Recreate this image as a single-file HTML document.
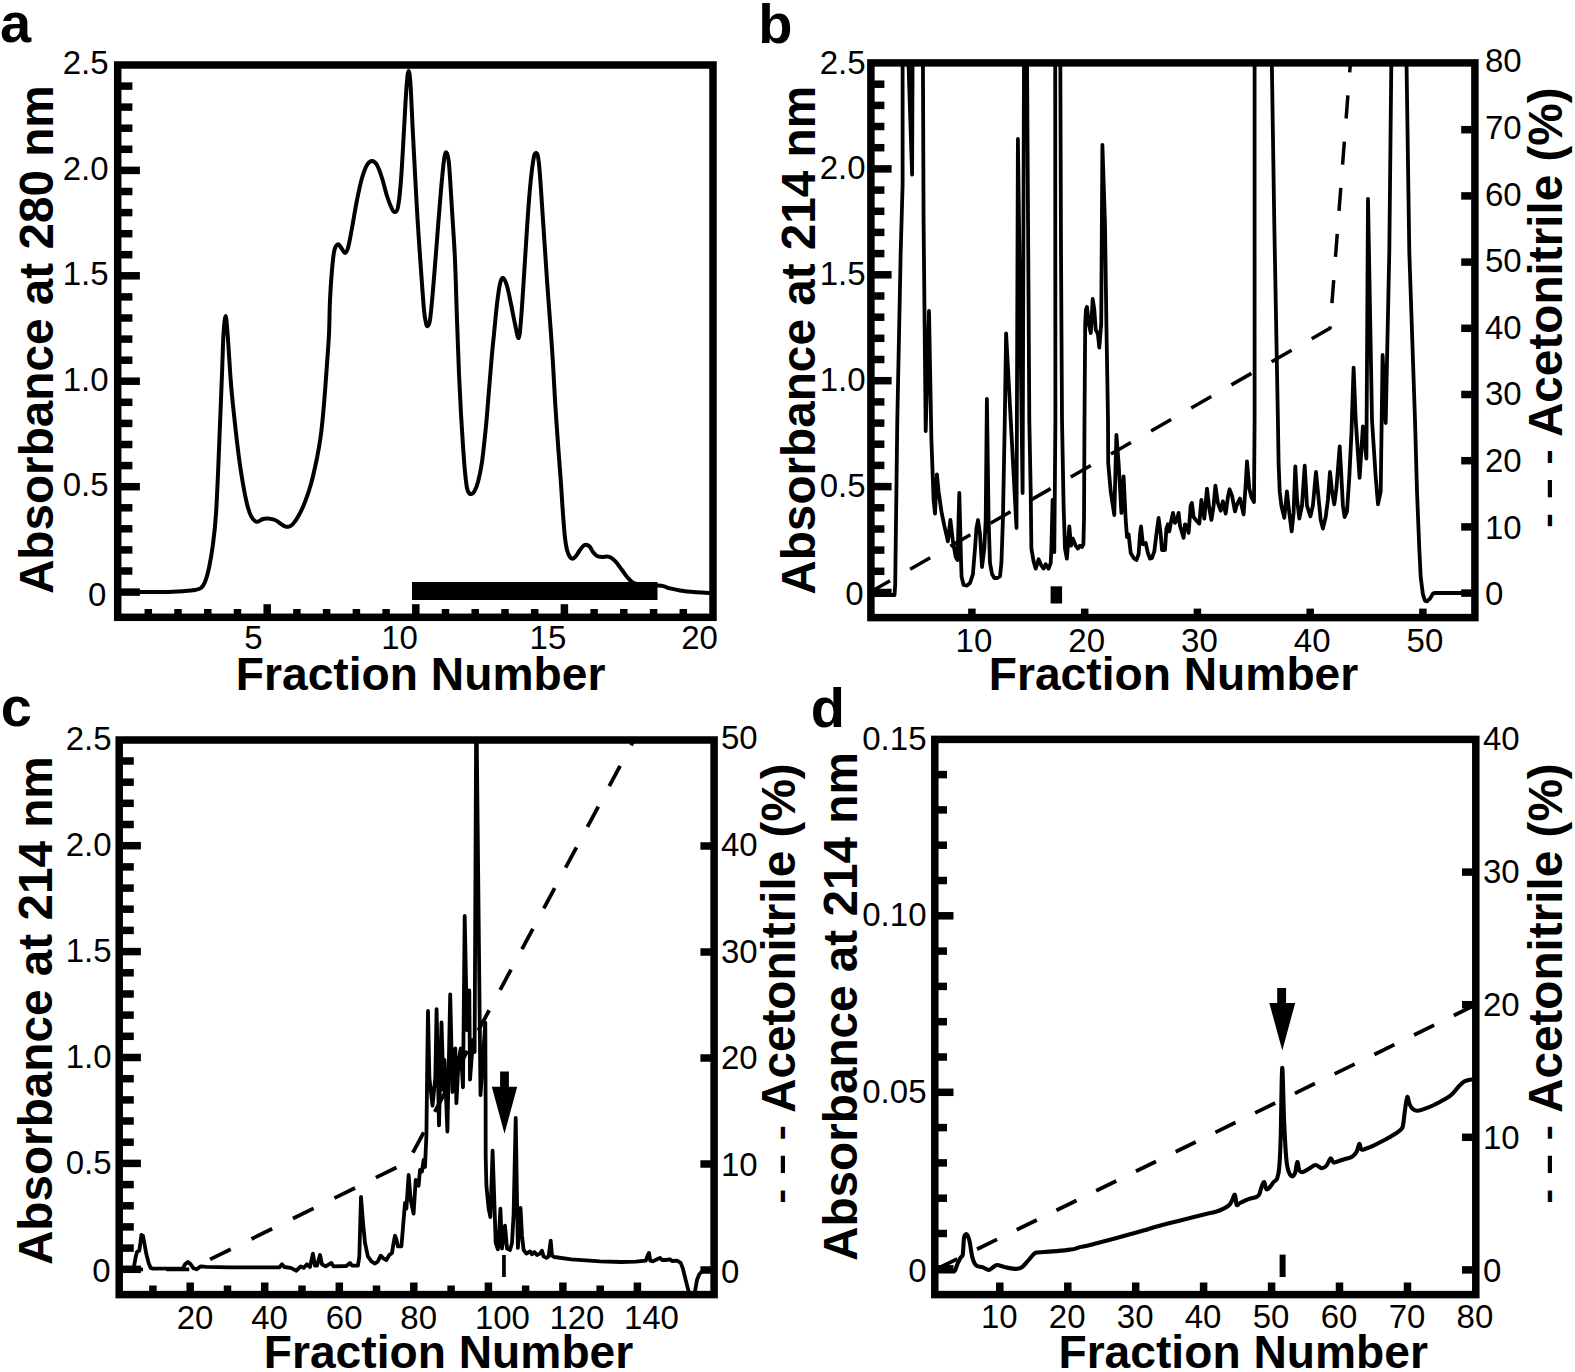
<!DOCTYPE html>
<html lang="en"><head><meta charset="utf-8"><title>Chromatography fractions</title>
<style>html,body{margin:0;padding:0;background:#fff}svg{display:block}text{font-family:"Liberation Sans",Arial,Helvetica,sans-serif;fill:#000;stroke:none}</style></head><body>
<svg width="1575" height="1372" viewBox="0 0 1575 1372" stroke="#000" fill="#000">
<rect x="0" y="0" width="1575" height="1372" fill="#fff" stroke="none"/>
<g id="panel-a">
<clipPath id="ca"><rect x="117.7" y="65" width="595.3" height="552.3"/></clipPath>
<g clip-path="url(#ca)">
<path d="M121 592 C124.2 592 132.7 592 140 592 C147.3 592 157.5 592.2 165 592 C172.5 591.8 180 591.3 185 591 C190 590.7 192.3 590.5 195 590 C197.7 589.5 199.3 589.3 201 588 C202.7 586.7 203.7 585.3 205 582 C206.3 578.7 207.7 574.3 209 568 C210.3 561.7 211.8 553 213 544 C214.2 535 215.2 525.7 216 514 C216.8 502.3 217.3 489 218 474 C218.7 459 219.3 440.7 220 424 C220.7 407.3 221.4 389 222 374 C222.6 359 222.9 343.7 223.5 334 C224.1 324.3 224.9 316 225.6 316 C226.3 316 226.7 322.7 227.6 334 C228.5 345.3 229.8 369 231 384 C232.2 399 233.7 411.7 235 424 C236.3 436.3 237.7 448 239 458 C240.3 468 241.7 476.3 243 484 C244.3 491.7 245.7 498.7 247 504 C248.3 509.3 249.7 513.2 251 516 C252.3 518.8 253.8 520.1 255 521 C256.2 521.9 256.7 521.9 258 521.6 C259.3 521.3 261.3 519.5 263 519 C264.7 518.5 266 518.4 268 518.6 C270 518.8 272.8 519.1 275 520 C277.2 520.9 279.3 522.9 281 524 C282.7 525.1 283.7 526 285 526.4 C286.3 526.8 287.7 527 289 526.6 C290.3 526.2 291.3 525.9 293 524 C294.7 522.1 297 518.7 299 515 C301 511.3 303 507.2 305 502 C307 496.8 309 491.3 311 484 C313 476.7 315.3 466.3 317 458 C318.7 449.7 319.8 443 321 434 C322.2 425 323 415.7 324 404 C325 392.3 326.2 375.7 327 364 C327.8 352.3 328.5 344.7 329 334 C329.5 323.3 329.5 310.7 330 300 C330.5 289.3 331.3 278 332 270 C332.7 262 333.3 256 334 252 C334.7 248 335.2 247.3 336 246 C336.8 244.7 337.6 243.9 338.6 244.4 C339.6 244.9 340.9 247.6 342 249 C343.1 250.4 344 253.2 345 253 C346 252.8 346.8 252.2 348 248 C349.2 243.8 350.5 236 352 228 C353.5 220 355.3 208.3 357 200 C358.7 191.7 360.3 183.8 362 178 C363.7 172.2 365.3 167.8 367 165 C368.7 162.2 370.3 161 372 161 C373.7 161 375.3 162.2 377 165 C378.7 167.8 380.3 172.8 382 178 C383.7 183.2 385.3 190.8 387 196 C388.7 201.2 390.7 206.3 392 209 C393.3 211.7 394 212.3 395 212 C396 211.7 397 212.3 398 207 C399 201.7 400 192.8 401 180 C402 167.2 403.1 145.7 404 130 C404.9 114.3 405.8 95.8 406.6 86 C407.4 76.2 407.9 71 408.6 71 C409.3 71 409.9 75.3 410.6 86 C411.3 96.7 411.9 114.3 413 135 C414.1 155.7 415.7 187.5 417 210 C418.3 232.5 419.8 253.3 421 270 C422.2 286.7 423.2 301.2 424 310 C424.8 318.8 425.4 320.3 426 323 C426.6 325.7 426.9 326.5 427.6 326 C428.3 325.5 429.1 326 430 320 C430.9 314 431.8 303.3 433 290 C434.2 276.7 435.7 256.7 437 240 C438.3 223.3 439.8 203.3 441 190 C442.2 176.7 443.1 166.3 444 160 C444.9 153.7 445.6 151.7 446.4 152.4 C447.2 153.1 448.1 154.4 449 164 C449.9 173.6 451 194 452 210 C453 226 454.2 241.7 455 260 C455.8 278.3 456.3 301 457 320 C457.7 339 458.3 358.3 459 374 C459.7 389.7 460.3 402 461 414 C461.7 426 462.3 436.3 463 446 C463.7 455.7 464.3 465 465 472 C465.7 479 466.3 484.5 467 488 C467.7 491.5 468.3 492 469 493 C469.7 494 470.2 494.2 471 494 C471.8 493.8 472.8 494 474 492 C475.2 490 476.7 487 478 482 C479.3 477 480.7 471.3 482 462 C483.3 452.7 484.8 438 486 426 C487.2 414 488 402 489 390 C490 378 491.2 363.3 492 354 C492.8 344.7 493.2 342.3 494 334 C494.8 325.7 496 312.3 497 304 C498 295.7 499 288.3 500 284 C501 279.7 501.8 277.7 503 278 C504.2 278.3 505.7 281.7 507 286 C508.3 290.3 509.7 297.7 511 304 C512.3 310.3 513.7 318.3 515 324 C516.3 329.7 517.6 338.7 518.6 338 C519.6 337.3 519.9 333 521 320 C522.1 307 523.7 280 525 260 C526.3 240 527.7 216.3 529 200 C530.3 183.7 531.8 169.8 533 162 C534.2 154.2 535 152.7 536 153 C537 153.3 537.8 152.8 539 164 C540.2 175.2 541.7 200.7 543 220 C544.3 239.3 545.7 261 547 280 C548.3 299 550 320 551 334 C552 348 552.3 353 553 364 C553.7 375 554.2 386.7 555 400 C555.8 413.3 557 430 558 444 C559 458 560.2 472.3 561 484 C561.8 495.7 562.3 505 563 514 C563.7 523 564.3 532 565 538 C565.7 544 566.2 546.8 567 550 C567.8 553.2 569 555.6 570 557 C571 558.4 572 558.8 573 558.6 C574 558.4 574.8 557.4 576 556 C577.2 554.6 578.7 551.8 580 550 C581.3 548.2 582.8 546.2 584 545.4 C585.2 544.6 586 544.7 587 545 C588 545.3 589 545.8 590 547 C591 548.2 591.8 550.5 593 552 C594.2 553.5 595.5 555.2 597 556 C598.5 556.8 600.3 556.9 602 557 C603.7 557.1 605.5 556.3 607 556.4 C608.5 556.5 609.5 556.7 611 557.6 C612.5 558.5 614.2 559.9 616 562 C617.8 564.1 620 567.3 622 570 C624 572.7 626 575.8 628 578 C630 580.2 631 581.8 634 583 C637 584.2 642 584.6 646 585 C650 585.4 655 585.4 658 585.6 C661 585.8 662 585.9 664 586.4 C666 586.9 667.3 587.7 670 588.4 C672.7 589.1 676 589.8 680 590.4 C684 591 688.8 591.6 694 592 C699.2 592.4 708.2 592.8 711 593" fill="none" stroke-width="4" stroke-linejoin="round" stroke-linecap="round"/>
<rect x="412" y="582" width="245.5" height="18" stroke="none"/>
</g>
<rect x="117.7" y="65" width="595.3" height="552.3" fill="none" stroke-width="7.5"/>
<line x1="121" y1="571" x2="132.4" y2="571" stroke-width="7.5"/>
<line x1="121" y1="549.9" x2="132.4" y2="549.9" stroke-width="7.5"/>
<line x1="121" y1="528.8" x2="132.4" y2="528.8" stroke-width="7.5"/>
<line x1="121" y1="507.8" x2="132.4" y2="507.8" stroke-width="7.5"/>
<line x1="121" y1="465.6" x2="132.4" y2="465.6" stroke-width="7.5"/>
<line x1="121" y1="444.5" x2="132.4" y2="444.5" stroke-width="7.5"/>
<line x1="121" y1="423.4" x2="132.4" y2="423.4" stroke-width="7.5"/>
<line x1="121" y1="402.3" x2="132.4" y2="402.3" stroke-width="7.5"/>
<line x1="121" y1="360.2" x2="132.4" y2="360.2" stroke-width="7.5"/>
<line x1="121" y1="339.1" x2="132.4" y2="339.1" stroke-width="7.5"/>
<line x1="121" y1="318" x2="132.4" y2="318" stroke-width="7.5"/>
<line x1="121" y1="296.9" x2="132.4" y2="296.9" stroke-width="7.5"/>
<line x1="121" y1="254.7" x2="132.4" y2="254.7" stroke-width="7.5"/>
<line x1="121" y1="233.7" x2="132.4" y2="233.7" stroke-width="7.5"/>
<line x1="121" y1="212.6" x2="132.4" y2="212.6" stroke-width="7.5"/>
<line x1="121" y1="191.5" x2="132.4" y2="191.5" stroke-width="7.5"/>
<line x1="121" y1="149.3" x2="132.4" y2="149.3" stroke-width="7.5"/>
<line x1="121" y1="128.2" x2="132.4" y2="128.2" stroke-width="7.5"/>
<line x1="121" y1="107.1" x2="132.4" y2="107.1" stroke-width="7.5"/>
<line x1="121" y1="86.1" x2="132.4" y2="86.1" stroke-width="7.5"/>
<line x1="121" y1="592.1" x2="139.9" y2="592.1" stroke-width="7.5"/>
<line x1="121" y1="486.7" x2="139.9" y2="486.7" stroke-width="7.5"/>
<line x1="121" y1="381.2" x2="139.9" y2="381.2" stroke-width="7.5"/>
<line x1="121" y1="275.8" x2="139.9" y2="275.8" stroke-width="7.5"/>
<line x1="121" y1="170.4" x2="139.9" y2="170.4" stroke-width="7.5"/>
<line x1="148.3" y1="609" x2="148.3" y2="614" stroke-width="7.5"/>
<line x1="178" y1="609" x2="178" y2="614" stroke-width="7.5"/>
<line x1="207.8" y1="609" x2="207.8" y2="614" stroke-width="7.5"/>
<line x1="237.5" y1="609" x2="237.5" y2="614" stroke-width="7.5"/>
<line x1="296.9" y1="609" x2="296.9" y2="614" stroke-width="7.5"/>
<line x1="326.6" y1="609" x2="326.6" y2="614" stroke-width="7.5"/>
<line x1="356.4" y1="609" x2="356.4" y2="614" stroke-width="7.5"/>
<line x1="386.1" y1="609" x2="386.1" y2="614" stroke-width="7.5"/>
<line x1="445.5" y1="609" x2="445.5" y2="614" stroke-width="7.5"/>
<line x1="475.2" y1="609" x2="475.2" y2="614" stroke-width="7.5"/>
<line x1="505" y1="609" x2="505" y2="614" stroke-width="7.5"/>
<line x1="534.7" y1="609" x2="534.7" y2="614" stroke-width="7.5"/>
<line x1="594.1" y1="609" x2="594.1" y2="614" stroke-width="7.5"/>
<line x1="623.8" y1="609" x2="623.8" y2="614" stroke-width="7.5"/>
<line x1="653.6" y1="609" x2="653.6" y2="614" stroke-width="7.5"/>
<line x1="683.3" y1="609" x2="683.3" y2="614" stroke-width="7.5"/>
<line x1="267.2" y1="604.2" x2="267.2" y2="614" stroke-width="7.5"/>
<line x1="415.8" y1="604.2" x2="415.8" y2="614" stroke-width="7.5"/>
<line x1="564.4" y1="604.2" x2="564.4" y2="614" stroke-width="7.5"/>
<text x="108.5" y="74.4" font-size="33" text-anchor="end">2.5</text>
<text x="108.5" y="179.8" font-size="33" text-anchor="end">2.0</text>
<text x="108.5" y="285.2" font-size="33" text-anchor="end">1.5</text>
<text x="108.5" y="390.6" font-size="33" text-anchor="end">1.0</text>
<text x="108.5" y="496.1" font-size="33" text-anchor="end">0.5</text>
<text x="106.3" y="606" font-size="33" text-anchor="end">0</text>
<text x="253.5" y="649.2" font-size="33" text-anchor="middle">5</text>
<text x="399.6" y="649.2" font-size="33" text-anchor="middle">10</text>
<text x="547.9" y="649.2" font-size="33" text-anchor="middle">15</text>
<text x="699.5" y="649.2" font-size="33" text-anchor="middle">20</text>
<text x="53.1" y="594.1" font-size="47.7" font-weight="bold" transform="rotate(-90 53.1 594.1)">Absorbance at 280 nm</text>
<text x="420.6" y="689.8" font-size="46.2" text-anchor="middle" font-weight="bold">Fraction Number</text>
<text x="0" y="42.3" font-size="56" font-weight="bold">a</text>
</g>
<g id="panel-b">
<clipPath id="cb"><rect x="870.9" y="62.9" width="604" height="554.7"/></clipPath>
<g clip-path="url(#cb)">
<path d="M870 592.3 L1330 328.3 L1350.4 62.9" fill="none" stroke-width="3.5" stroke-linejoin="round" stroke-linecap="butt" stroke-dasharray="23.1 23.2"/>
<path d="M871 595 L894.5 595 L895.2 585 L897.3 420 L900.7 252 L902.6 185 L902.6 55 L908.2 55 L912.1 174.6 L912.6 55 L922.9 55 L923.6 224 L925.7 431 L929 311 L931.4 440 L933.6 500 L935 513.6 L936.9 474.3 L938.6 491.4 L941.4 511.4 L944.3 525.7 L947.9 541.4 L950.4 520 L952.9 541.4 L955.7 557 L957.5 560 L959.3 492.9 L961 560 L961.6 577 L963.6 585 L967 585.7 L970 583 L972.9 574.3 L975 548.6 L976.4 528.6 L978 520 L980 534 L982 567 L984.3 548.6 L985.7 520 L986.9 399 L988.6 520 L990 563 L992 574 L994.3 578 L997 578 L1000 576.4 L1001.4 563 L1002.9 520 L1004 463 L1004.8 420 L1006.1 333.3 L1016.5 528 L1017.9 139 L1022.6 493 L1024 55 L1027 55 L1029.3 420 L1030.7 491.4 L1031.4 548.6 L1033.6 561.4 L1035.7 568.6 L1038.6 559.3 L1041.4 565.7 L1043.6 568.6 L1045.7 564.3 L1048.6 568.6 L1050.7 563 L1051.4 548.6 L1052.6 500 L1054.3 552 L1055.4 420 L1055.2 55 L1060.3 55 L1061 252 L1062 420 L1063.6 505.7 L1065 548.6 L1066.9 558.6 L1069.3 526.4 L1071 545.7 L1072.9 538.6 L1075.7 545.7 L1077.9 548.6 L1080 545.7 L1082 547 L1083.4 544.3 L1084 520 L1084.5 420 L1085.2 324 L1085.9 310 L1087 307 L1088.8 324 L1090.8 333 L1092.7 299 L1094.3 309.7 L1095.7 329.7 L1097.9 334 L1099.3 347.6 L1101.2 324 L1102.4 145 L1105 224 L1106.4 324 L1108 420 L1108.2 463 L1110.7 491.4 L1114.3 515 L1116.4 435 L1118.6 463 L1121.4 513 L1123.6 476.4 L1125.7 520 L1127 537 L1128.6 534.3 L1130.7 553 L1133.6 557.9 L1136.4 560 L1138.6 554.3 L1140 534.3 L1141 526.4 L1142.9 544.3 L1145.7 542.9 L1147.9 553 L1150 558.6 L1152 557.9 L1154.3 551.4 L1156.4 534.3 L1158.6 517.9 L1160.7 534.3 L1162 550 L1165 550 L1166.4 528.6 L1167.9 524.3 L1169.3 531.4 L1171.4 520 L1173 512.9 L1175 522.9 L1177 520 L1178.6 512.9 L1180 525.7 L1183.6 537.9 L1185 524.3 L1187 525.7 L1188.6 532.9 L1190.7 505.7 L1191.9 502.9 L1193.6 517 L1196.4 520.7 L1199.3 523.6 L1201.4 500 L1204.3 518.6 L1207 488.6 L1209.3 508.6 L1211.4 520 L1213.6 505.7 L1215.4 485.7 L1217.9 502.9 L1220.7 510.7 L1222.9 501.4 L1225.7 513.6 L1227.9 497 L1229.6 489.3 L1232 495.7 L1235 511.4 L1237 504.3 L1240 498.6 L1243.6 514.3 L1245.7 484.3 L1247 461.4 L1249.3 488.6 L1251.4 497 L1254 502 L1254.6 420 L1254.6 55 L1271.7 55 L1274.3 224 L1277.9 420 L1278.6 463 L1279.7 491.4 L1281.4 505.7 L1284.3 517.9 L1286.9 491.4 L1289.3 512.9 L1291.7 531.4 L1293.6 512.9 L1295.3 466.4 L1297 498.6 L1299.3 518.6 L1302 505.7 L1304.7 465.7 L1307 505.7 L1310.4 516.4 L1312.9 505.7 L1316 472 L1318.6 498.6 L1320.7 520 L1322.9 528.6 L1325.7 517 L1327.9 500 L1330 472 L1332 491.4 L1334.3 504.3 L1336.4 488.6 L1339.7 446.4 L1341.4 477 L1342.9 505.7 L1344.6 517 L1347 511.4 L1349.3 477 L1351.4 434.3 L1353.6 367.6 L1355.7 420 L1359.6 477.9 L1362.9 426.4 L1366.4 458.6 L1368 199 L1372 420 L1375.7 477 L1378 504.3 L1380.7 491.4 L1382.6 355 L1385.7 423 L1389.3 252 L1391.4 55 L1406.4 55 L1409.3 252 L1415 420 L1417 491.4 L1419.3 548.6 L1420.7 577 L1422.9 594.3 L1425 600.7 L1427 601.4 L1430 598.6 L1432.9 593.6 L1435 592.9 L1462 593" fill="none" stroke-width="3.8" stroke-linejoin="round" stroke-linecap="round"/>
<rect x="1050.6" y="586.3" width="11.5" height="17.2" stroke="none"/>
</g>
<rect x="870.9" y="62.9" width="604" height="554.7" fill="none" stroke-width="7.5"/>
<line x1="874.1" y1="571.3" x2="884.4" y2="571.3" stroke-width="7.5"/>
<line x1="874.1" y1="550.1" x2="884.4" y2="550.1" stroke-width="7.5"/>
<line x1="874.1" y1="529" x2="884.4" y2="529" stroke-width="7.5"/>
<line x1="874.1" y1="507.8" x2="884.4" y2="507.8" stroke-width="7.5"/>
<line x1="874.1" y1="465.4" x2="884.4" y2="465.4" stroke-width="7.5"/>
<line x1="874.1" y1="444.2" x2="884.4" y2="444.2" stroke-width="7.5"/>
<line x1="874.1" y1="423.1" x2="884.4" y2="423.1" stroke-width="7.5"/>
<line x1="874.1" y1="401.9" x2="884.4" y2="401.9" stroke-width="7.5"/>
<line x1="874.1" y1="359.5" x2="884.4" y2="359.5" stroke-width="7.5"/>
<line x1="874.1" y1="338.3" x2="884.4" y2="338.3" stroke-width="7.5"/>
<line x1="874.1" y1="317.2" x2="884.4" y2="317.2" stroke-width="7.5"/>
<line x1="874.1" y1="296" x2="884.4" y2="296" stroke-width="7.5"/>
<line x1="874.1" y1="253.6" x2="884.4" y2="253.6" stroke-width="7.5"/>
<line x1="874.1" y1="232.4" x2="884.4" y2="232.4" stroke-width="7.5"/>
<line x1="874.1" y1="211.3" x2="884.4" y2="211.3" stroke-width="7.5"/>
<line x1="874.1" y1="190.1" x2="884.4" y2="190.1" stroke-width="7.5"/>
<line x1="874.1" y1="147.7" x2="884.4" y2="147.7" stroke-width="7.5"/>
<line x1="874.1" y1="126.5" x2="884.4" y2="126.5" stroke-width="7.5"/>
<line x1="874.1" y1="105.4" x2="884.4" y2="105.4" stroke-width="7.5"/>
<line x1="874.1" y1="84.2" x2="884.4" y2="84.2" stroke-width="7.5"/>
<line x1="874.1" y1="592.5" x2="891.6" y2="592.5" stroke-width="7.5"/>
<line x1="874.1" y1="486.6" x2="891.6" y2="486.6" stroke-width="7.5"/>
<line x1="874.1" y1="380.7" x2="891.6" y2="380.7" stroke-width="7.5"/>
<line x1="874.1" y1="274.8" x2="891.6" y2="274.8" stroke-width="7.5"/>
<line x1="874.1" y1="168.9" x2="891.6" y2="168.9" stroke-width="7.5"/>
<line x1="1461.2" y1="593.1" x2="1471.7" y2="593.1" stroke-width="7.5"/>
<line x1="1461.2" y1="526.9" x2="1471.7" y2="526.9" stroke-width="7.5"/>
<line x1="1461.2" y1="460.7" x2="1471.7" y2="460.7" stroke-width="7.5"/>
<line x1="1461.2" y1="394.5" x2="1471.7" y2="394.5" stroke-width="7.5"/>
<line x1="1461.2" y1="328.3" x2="1471.7" y2="328.3" stroke-width="7.5"/>
<line x1="1461.2" y1="262.1" x2="1471.7" y2="262.1" stroke-width="7.5"/>
<line x1="1461.2" y1="195.9" x2="1471.7" y2="195.9" stroke-width="7.5"/>
<line x1="1461.2" y1="129.7" x2="1471.7" y2="129.7" stroke-width="7.5"/>
<line x1="971.9" y1="608.6" x2="971.9" y2="614.4" stroke-width="7.5"/>
<line x1="1084.7" y1="608.6" x2="1084.7" y2="614.4" stroke-width="7.5"/>
<line x1="1197.4" y1="608.6" x2="1197.4" y2="614.4" stroke-width="7.5"/>
<line x1="1310.2" y1="608.6" x2="1310.2" y2="614.4" stroke-width="7.5"/>
<line x1="1422.9" y1="608.6" x2="1422.9" y2="614.4" stroke-width="7.5"/>
<text x="865.5" y="73.5" font-size="33" text-anchor="end">2.5</text>
<text x="865.5" y="179.4" font-size="33" text-anchor="end">2.0</text>
<text x="865.5" y="285.3" font-size="33" text-anchor="end">1.5</text>
<text x="865.5" y="391.2" font-size="33" text-anchor="end">1.0</text>
<text x="865.5" y="497.1" font-size="33" text-anchor="end">0.5</text>
<text x="863.5" y="605.2" font-size="33" text-anchor="end">0</text>
<text x="1485" y="605.4" font-size="33">0</text>
<text x="1485" y="538.8" font-size="33">10</text>
<text x="1485" y="472.1" font-size="33">20</text>
<text x="1485" y="405.4" font-size="33">30</text>
<text x="1485" y="338.8" font-size="33">40</text>
<text x="1485" y="272.1" font-size="33">50</text>
<text x="1485" y="205.5" font-size="33">60</text>
<text x="1485" y="138.8" font-size="33">70</text>
<text x="1485" y="72.2" font-size="33">80</text>
<text x="973.9" y="651.5" font-size="33" text-anchor="middle">10</text>
<text x="1086.7" y="651.5" font-size="33" text-anchor="middle">20</text>
<text x="1199.4" y="651.5" font-size="33" text-anchor="middle">30</text>
<text x="1312.2" y="651.5" font-size="33" text-anchor="middle">40</text>
<text x="1424.9" y="651.5" font-size="33" text-anchor="middle">50</text>
<text x="815.5" y="594.7" font-size="47.7" font-weight="bold" transform="rotate(-90 815.5 594.7)">Absorbance at 214 nm</text>
<text x="1561.8" y="437.1" font-size="47.7" font-weight="bold" transform="rotate(-90 1561.8 437.1)">Acetonitrile (%)</text>
<text font-size="35" font-weight="bold" transform="translate(1559.2 462.8) rotate(-90) scale(1.337 1)" x="-1.40" y="0">-</text>
<text font-size="35" font-weight="bold" transform="translate(1559.2 497.2) rotate(-90) scale(1.954 1)" x="-1.40" y="0">-</text>
<text font-size="35" font-weight="bold" transform="translate(1559.2 526.1) rotate(-90) scale(1.291 1)" x="-1.40" y="0">-</text>
<text x="1173.5" y="690.3" font-size="46.2" text-anchor="middle" font-weight="bold">Fraction Number</text>
<text x="758.3" y="42.6" font-size="56" font-weight="bold">b</text>
</g>
<g id="panel-c">
<clipPath id="cc"><rect x="119.2" y="740" width="594.9" height="554.6"/></clipPath>
<g clip-path="url(#cc)">
<path d="M120 1269.3 L190 1269.3 L408 1161.8 L634 740" fill="none" stroke-width="3.8" stroke-linejoin="round" stroke-linecap="butt" stroke-dasharray="23 23.2"/>
<path d="M123 1268.6 L133.6 1268.6 L135.7 1257 L137 1252 L139.3 1250.7 L140.4 1243 L141.4 1235 L142.9 1235.7 L144.3 1242.9 L146.4 1254.3 L148.6 1262.9 L150.7 1267.9 L152.9 1268.6 L182.9 1268.3 L185 1264.3 L187.9 1262 L190.7 1264.3 L193.6 1268.3 L196.4 1269.3 L200.7 1266.4 L206.4 1266.9 L229.3 1267.4 L279.3 1267.4 L282 1264.3 L284.3 1267 L290.7 1267.9 L296.4 1270.7 L300.7 1266.4 L303.6 1267.9 L307 1264.3 L310 1267 L312.9 1253.6 L315 1265.7 L317 1265.7 L320 1255 L322 1264.3 L325.7 1266.4 L331.4 1262.9 L333.6 1266.4 L346.4 1266 L350 1262.9 L352 1265.7 L357.9 1265.7 L359.3 1257 L361 1197 L362.9 1221.4 L365 1242.9 L367.9 1256.4 L371.4 1261.4 L375 1263.6 L377.9 1261.4 L380.7 1255.7 L383.6 1258.6 L386.4 1260 L389.3 1255 L392 1252.9 L393.6 1242.9 L395 1235.7 L396.4 1239.3 L397.9 1246.4 L401.4 1246.4 L402.9 1228.6 L405 1202.9 L406.4 1208.6 L408.6 1175 L410.7 1200 L413.6 1213.6 L415.7 1180 L418.6 1185.7 L420 1170 L422 1171.4 L423.6 1160 L425 1167 L426.4 1135.7 L427.3 1060 L428 1011 L429.4 1078 L432.5 1105.7 L435.3 1078 L436.6 1009.1 L439 1125.4 L441.5 1022.5 L443.5 1090 L444.5 1060 L447.4 1131.7 L450.2 994.5 L452.5 1092 L455.3 1048.5 L456.4 1103.2 L458.5 1062 L460.7 1048.5 L463 1087.3 L464.7 916 L467 1030 L469.3 990.4 L470 1079.7 L473 1040 L474.6 1052 L476.1 735 L476.7 735 L480.5 1095 L485.3 1022.6 L485.6 1100 L485.7 1157 L486.4 1185.7 L488.6 1208.6 L490.4 1217 L492.6 1150.7 L494.3 1200 L495.7 1242.9 L497.9 1249.3 L499.3 1228.6 L500.4 1208.6 L502 1248.6 L505 1225.7 L507 1248.6 L510 1250 L512 1242.9 L513.6 1214.3 L515.7 1117.9 L517 1200 L517.9 1247.9 L520.5 1207.9 L522 1235.7 L523.6 1250 L526.4 1253.6 L530 1251.4 L532 1254.3 L534.3 1252 L537 1255 L540 1253.6 L542 1250.7 L543.6 1256.4 L546.4 1257.9 L548.6 1256.4 L550.7 1240.7 L552 1255.7 L554.3 1257 L571.4 1259.3 L600 1261.4 L621.4 1262 L635.7 1261.7 L645.7 1260.7 L647.9 1255 L649 1252.9 L650.3 1260.7 L652.9 1261.4 L657 1259.3 L660 1257.9 L662 1260 L665.7 1260 L670 1259.3 L672 1261 L677 1260.7 L680.7 1262.9 L682.9 1268.6 L685.7 1280 L688.6 1291.4 L691.8 1300 L695 1291.4 L697 1280 L699.3 1274.3 L702 1271.4 L711 1270.7" fill="none" stroke-width="3.8" stroke-linejoin="round" stroke-linecap="round"/>
<polygon points="500.1,1071.4 508.9,1071.4 508.9,1086.7 517.2,1086.7 504.5,1133.7 491.8,1086.7 500.1,1086.7" stroke="none"/>
<rect x="502.1" y="1255" width="3.7" height="22" stroke="none"/>
</g>
<rect x="119.2" y="740" width="594.9" height="554.6" fill="none" stroke-width="7.5"/>
<line x1="122.5" y1="1248.1" x2="133.8" y2="1248.1" stroke-width="7.5"/>
<line x1="122.5" y1="1226.9" x2="133.8" y2="1226.9" stroke-width="7.5"/>
<line x1="122.5" y1="1205.8" x2="133.8" y2="1205.8" stroke-width="7.5"/>
<line x1="122.5" y1="1184.6" x2="133.8" y2="1184.6" stroke-width="7.5"/>
<line x1="122.5" y1="1142.2" x2="133.8" y2="1142.2" stroke-width="7.5"/>
<line x1="122.5" y1="1121" x2="133.8" y2="1121" stroke-width="7.5"/>
<line x1="122.5" y1="1099.9" x2="133.8" y2="1099.9" stroke-width="7.5"/>
<line x1="122.5" y1="1078.7" x2="133.8" y2="1078.7" stroke-width="7.5"/>
<line x1="122.5" y1="1036.3" x2="133.8" y2="1036.3" stroke-width="7.5"/>
<line x1="122.5" y1="1015.1" x2="133.8" y2="1015.1" stroke-width="7.5"/>
<line x1="122.5" y1="994" x2="133.8" y2="994" stroke-width="7.5"/>
<line x1="122.5" y1="972.8" x2="133.8" y2="972.8" stroke-width="7.5"/>
<line x1="122.5" y1="930.4" x2="133.8" y2="930.4" stroke-width="7.5"/>
<line x1="122.5" y1="909.2" x2="133.8" y2="909.2" stroke-width="7.5"/>
<line x1="122.5" y1="888.1" x2="133.8" y2="888.1" stroke-width="7.5"/>
<line x1="122.5" y1="866.9" x2="133.8" y2="866.9" stroke-width="7.5"/>
<line x1="122.5" y1="824.5" x2="133.8" y2="824.5" stroke-width="7.5"/>
<line x1="122.5" y1="803.3" x2="133.8" y2="803.3" stroke-width="7.5"/>
<line x1="122.5" y1="782.2" x2="133.8" y2="782.2" stroke-width="7.5"/>
<line x1="122.5" y1="761" x2="133.8" y2="761" stroke-width="7.5"/>
<line x1="122.5" y1="1269.3" x2="140.9" y2="1269.3" stroke-width="7.5"/>
<line x1="122.5" y1="1163.4" x2="140.9" y2="1163.4" stroke-width="7.5"/>
<line x1="122.5" y1="1057.5" x2="140.9" y2="1057.5" stroke-width="7.5"/>
<line x1="122.5" y1="951.6" x2="140.9" y2="951.6" stroke-width="7.5"/>
<line x1="122.5" y1="845.7" x2="140.9" y2="845.7" stroke-width="7.5"/>
<line x1="700.4" y1="1270" x2="710.9" y2="1270" stroke-width="7.5"/>
<line x1="700.4" y1="1164" x2="710.9" y2="1164" stroke-width="7.5"/>
<line x1="700.4" y1="1058" x2="710.9" y2="1058" stroke-width="7.5"/>
<line x1="700.4" y1="952" x2="710.9" y2="952" stroke-width="7.5"/>
<line x1="700.4" y1="846" x2="710.9" y2="846" stroke-width="7.5"/>
<line x1="152.9" y1="1285.5" x2="152.9" y2="1291.3" stroke-width="7.5"/>
<line x1="227.5" y1="1285.5" x2="227.5" y2="1291.3" stroke-width="7.5"/>
<line x1="302" y1="1285.5" x2="302" y2="1291.3" stroke-width="7.5"/>
<line x1="376.5" y1="1285.5" x2="376.5" y2="1291.3" stroke-width="7.5"/>
<line x1="451.1" y1="1285.5" x2="451.1" y2="1291.3" stroke-width="7.5"/>
<line x1="525.6" y1="1285.5" x2="525.6" y2="1291.3" stroke-width="7.5"/>
<line x1="600.2" y1="1285.5" x2="600.2" y2="1291.3" stroke-width="7.5"/>
<line x1="190.2" y1="1282.5" x2="190.2" y2="1291.3" stroke-width="7.5"/>
<line x1="264.7" y1="1282.5" x2="264.7" y2="1291.3" stroke-width="7.5"/>
<line x1="339.3" y1="1282.5" x2="339.3" y2="1291.3" stroke-width="7.5"/>
<line x1="413.8" y1="1282.5" x2="413.8" y2="1291.3" stroke-width="7.5"/>
<line x1="488.4" y1="1282.5" x2="488.4" y2="1291.3" stroke-width="7.5"/>
<line x1="562.9" y1="1282.5" x2="562.9" y2="1291.3" stroke-width="7.5"/>
<line x1="637.4" y1="1282.5" x2="637.4" y2="1291.3" stroke-width="7.5"/>
<text x="111.5" y="750.3" font-size="33" text-anchor="end">2.5</text>
<text x="111.5" y="856.2" font-size="33" text-anchor="end">2.0</text>
<text x="111.5" y="962.1" font-size="33" text-anchor="end">1.5</text>
<text x="111.5" y="1068" font-size="33" text-anchor="end">1.0</text>
<text x="111.5" y="1173.9" font-size="33" text-anchor="end">0.5</text>
<text x="110.5" y="1282.3" font-size="33" text-anchor="end">0</text>
<text x="721" y="1282.6" font-size="33">0</text>
<text x="721" y="1175.9" font-size="33">10</text>
<text x="721" y="1069.3" font-size="33">20</text>
<text x="721" y="962.6" font-size="33">30</text>
<text x="721" y="856" font-size="33">40</text>
<text x="721" y="749.3" font-size="33">50</text>
<text x="176.7" y="1328.5" font-size="33">20</text>
<text x="251.2" y="1328.5" font-size="33">40</text>
<text x="325.8" y="1328.5" font-size="33">60</text>
<text x="400.3" y="1328.5" font-size="33">80</text>
<text x="474.9" y="1328.5" font-size="33">100</text>
<text x="549.4" y="1328.5" font-size="33">120</text>
<text x="623.9" y="1328.5" font-size="33">140</text>
<text x="52.2" y="1265.1" font-size="47.7" font-weight="bold" transform="rotate(-90 52.2 1265.1)">Absorbance at 214 nm</text>
<text x="794.8" y="1113" font-size="47.7" font-weight="bold" transform="rotate(-90 794.8 1113)">Acetonitrile (%)</text>
<text font-size="35" font-weight="bold" transform="translate(792.2 1138.7) rotate(-90) scale(1.337 1)" x="-1.40" y="0">-</text>
<text font-size="35" font-weight="bold" transform="translate(792.2 1173.1) rotate(-90) scale(1.954 1)" x="-1.40" y="0">-</text>
<text font-size="35" font-weight="bold" transform="translate(792.2 1202) rotate(-90) scale(1.291 1)" x="-1.40" y="0">-</text>
<text x="448.5" y="1368" font-size="46.2" text-anchor="middle" font-weight="bold">Fraction Number</text>
<text x="0.7" y="726.1" font-size="56" font-weight="bold">c</text>
</g>
<g id="panel-d">
<clipPath id="cd"><rect x="934.8" y="739.4" width="541" height="555.2"/></clipPath>
<g clip-path="url(#cd)">
<path d="M937.3 1268.7 L1475.8 1004.7" fill="none" stroke-width="3.8" stroke-linejoin="round" stroke-linecap="butt" stroke-dasharray="22.3 21.95"/>
<path d="M938 1271.4 C940 1271.4 947.2 1271.5 950 1271.4 C952.8 1271.3 953.4 1271.8 954.5 1271 C955.6 1270.2 955.9 1267.8 956.5 1266.5 C957.1 1265.2 957.2 1264.4 957.9 1262.9 C958.6 1261.4 959.9 1258.7 960.7 1257.5 C961.5 1256.3 962.2 1257.1 962.6 1255.5 C963 1253.9 963.1 1250.6 963.3 1248 C963.5 1245.4 963.6 1242.1 963.8 1240 C964 1237.9 964.3 1236.6 964.6 1235.6 C964.9 1234.6 965.3 1234.3 965.8 1234.2 C966.2 1234.1 966.8 1234.3 967.3 1235 C967.8 1235.7 968.3 1237.1 968.8 1238.5 C969.2 1239.9 969.5 1240.6 970 1243.5 C970.5 1246.4 971.3 1252.5 972 1255.7 C972.7 1258.9 973.5 1261.2 974.3 1262.9 C975.1 1264.6 975.6 1265.2 977 1266 C978.4 1266.8 981 1266.7 982.9 1267.4 C984.8 1268.1 986.9 1270 988.6 1270 C990.3 1270 991.5 1268.2 992.9 1267.4 C994.3 1266.6 995.1 1265.1 997 1265 C998.9 1264.9 1001.6 1266.3 1004.3 1266.9 C1006.9 1267.5 1010.5 1268.3 1012.9 1268.6 C1015.3 1268.9 1016.9 1269 1018.6 1268.6 C1020.3 1268.2 1021.2 1267.8 1022.9 1266.4 C1024.6 1265 1026.9 1261.9 1028.6 1260 C1030.3 1258.1 1031.6 1256.2 1032.9 1255 C1034.2 1253.8 1034.5 1253.1 1036.4 1252.6 C1038.3 1252.1 1040.6 1252.3 1044.3 1252 C1048 1251.7 1054.3 1251.3 1058.6 1250.9 C1062.9 1250.5 1067.2 1250 1070 1249.6 C1072.8 1249.2 1074.3 1249 1075.7 1248.6 C1077.1 1248.2 1076.7 1247.9 1078.6 1247.4 C1080.5 1246.9 1083.2 1246.6 1087 1245.7 C1090.8 1244.8 1096.6 1243.2 1101.4 1242 C1106.2 1240.8 1110.9 1239.6 1115.7 1238.3 C1120.5 1237 1125.2 1235.6 1130 1234.3 C1134.8 1233 1140.1 1231.5 1144.3 1230.3 C1148.5 1229.1 1150.7 1228.2 1155 1227 C1159.3 1225.8 1164.2 1224.5 1170 1223 C1175.8 1221.5 1184 1219.5 1190 1218 C1196 1216.5 1201.8 1215 1206 1214 C1210.2 1213 1212.1 1212.9 1215 1212 C1217.9 1211.1 1221.2 1209.8 1223.6 1208.6 C1226 1207.4 1227.9 1206.3 1229.3 1205 C1230.7 1203.7 1231.1 1202.2 1232 1200.5 C1232.9 1198.8 1234.1 1194.1 1234.9 1194.8 C1235.7 1195.5 1235.8 1203.4 1236.6 1204.8 C1237.4 1206.2 1238.1 1203.9 1240 1203 C1241.9 1202.1 1245.2 1200.3 1247.9 1199.3 C1250.6 1198.3 1254.5 1197.8 1256.4 1197 C1258.3 1196.2 1258.5 1195.9 1259.3 1194.3 C1260.1 1192.7 1260.6 1189.5 1261.4 1187.5 C1262.2 1185.5 1263.4 1181.7 1264.2 1182 C1265 1182.3 1265.3 1188.4 1266.3 1189.2 C1267.3 1190 1268.8 1188.2 1270 1187 C1271.2 1185.8 1272.4 1183.4 1273.6 1182 C1274.8 1180.6 1276.1 1181.1 1277 1178.8 C1277.9 1176.5 1278.6 1175 1279.2 1168 C1279.8 1161 1280.2 1153.7 1280.7 1137 C1281.2 1120.3 1281.6 1070.6 1282.2 1068 C1282.8 1065.4 1283.4 1106.3 1284.1 1121.4 C1284.8 1136.5 1285.5 1150.3 1286.3 1158.6 C1287 1166.9 1287.6 1168.5 1288.6 1171.4 C1289.6 1174.4 1291.1 1176.1 1292.2 1176.3 C1293.3 1176.5 1294.4 1175 1295.2 1172.6 C1296 1170.2 1296.6 1162.3 1297.3 1162 C1298 1161.7 1298.5 1168.8 1299.4 1170.5 C1300.4 1172.2 1301.3 1172.3 1303 1172 C1304.7 1171.7 1307.2 1169.7 1309.3 1168.5 C1311.4 1167.3 1313.5 1165 1315.5 1165 C1317.5 1165 1319.8 1168.2 1321.6 1168.3 C1323.4 1168.4 1325.1 1167.2 1326.6 1165.5 C1328.1 1163.8 1329.3 1158.8 1330.5 1158.3 C1331.7 1157.8 1332.2 1162 1333.6 1162.5 C1335 1163 1337.1 1161.6 1339 1161 C1340.9 1160.4 1342.8 1159.7 1345 1159 C1347.2 1158.3 1350.1 1157.9 1352 1156.7 C1353.9 1155.5 1355.4 1153.9 1356.6 1151.7 C1357.8 1149.5 1358.5 1144.2 1359.3 1143.8 C1360.1 1143.4 1360.3 1148.7 1361.3 1149.5 C1362.3 1150.3 1363.4 1149.5 1365.5 1148.8 C1367.6 1148.1 1370.8 1146.8 1374 1145.3 C1377.2 1143.8 1381.6 1141.6 1385 1139.8 C1388.4 1138 1391.9 1136 1394.5 1134.3 C1397.1 1132.6 1399.4 1131.1 1400.8 1129.6 C1402.2 1128.1 1402.3 1128.8 1403 1125.5 C1403.7 1122.2 1404.3 1114.8 1405 1110 C1405.7 1105.2 1406.5 1098 1407.3 1097 C1408 1096 1408.6 1102 1409.5 1104 C1410.4 1106 1411.3 1107.7 1412.5 1108.8 C1413.7 1109.9 1415 1110.7 1416.7 1110.8 C1418.5 1110.9 1420.1 1110.4 1423 1109.4 C1425.9 1108.4 1430.2 1106.8 1434 1105 C1437.8 1103.2 1443 1100.4 1446 1098.6 C1449 1096.8 1450 1096.2 1452 1094.3 C1454 1092.4 1456.2 1089.3 1458 1087.3 C1459.8 1085.3 1461.3 1083.5 1463 1082.3 C1464.7 1081.1 1466.3 1080.7 1468 1080.2 C1469.7 1079.7 1472.2 1079.5 1473 1079.4" fill="none" stroke-width="4.1" stroke-linejoin="round" stroke-linecap="round"/>
<polygon points="1277.2,988.1 1286.1,988.1 1286.1,1002.9 1295.2,1002.9 1282.3,1050.6 1269.3,1002.9 1277.2,1002.9" stroke="none"/>
<rect x="1279.6" y="1254.6" width="6" height="22.4" stroke="none"/>
</g>
<rect x="934.8" y="739.4" width="541" height="555.2" fill="none" stroke-width="7.5"/>
<line x1="938" y1="1233.5" x2="947" y2="1233.5" stroke-width="7.5"/>
<line x1="938" y1="1198.2" x2="947" y2="1198.2" stroke-width="7.5"/>
<line x1="938" y1="1162.9" x2="947" y2="1162.9" stroke-width="7.5"/>
<line x1="938" y1="1127.6" x2="947" y2="1127.6" stroke-width="7.5"/>
<line x1="938" y1="1057" x2="947" y2="1057" stroke-width="7.5"/>
<line x1="938" y1="1021.7" x2="947" y2="1021.7" stroke-width="7.5"/>
<line x1="938" y1="986.4" x2="947" y2="986.4" stroke-width="7.5"/>
<line x1="938" y1="951.1" x2="947" y2="951.1" stroke-width="7.5"/>
<line x1="938" y1="880.5" x2="947" y2="880.5" stroke-width="7.5"/>
<line x1="938" y1="845.2" x2="947" y2="845.2" stroke-width="7.5"/>
<line x1="938" y1="809.9" x2="947" y2="809.9" stroke-width="7.5"/>
<line x1="938" y1="774.6" x2="947" y2="774.6" stroke-width="7.5"/>
<line x1="938" y1="1268.8" x2="953.5" y2="1268.8" stroke-width="7.5"/>
<line x1="938" y1="1092.3" x2="953.5" y2="1092.3" stroke-width="7.5"/>
<line x1="938" y1="915.8" x2="953.5" y2="915.8" stroke-width="7.5"/>
<line x1="1462" y1="1269.9" x2="1472.5" y2="1269.9" stroke-width="7.5"/>
<line x1="1462" y1="1137.3" x2="1472.5" y2="1137.3" stroke-width="7.5"/>
<line x1="1462" y1="1004.7" x2="1472.5" y2="1004.7" stroke-width="7.5"/>
<line x1="1462" y1="872.1" x2="1472.5" y2="872.1" stroke-width="7.5"/>
<line x1="999.8" y1="1282.5" x2="999.8" y2="1291.3" stroke-width="7.5"/>
<line x1="1067.8" y1="1282.5" x2="1067.8" y2="1291.3" stroke-width="7.5"/>
<line x1="1135.7" y1="1282.5" x2="1135.7" y2="1291.3" stroke-width="7.5"/>
<line x1="1203.6" y1="1282.5" x2="1203.6" y2="1291.3" stroke-width="7.5"/>
<line x1="1271.6" y1="1282.5" x2="1271.6" y2="1291.3" stroke-width="7.5"/>
<line x1="1339.5" y1="1282.5" x2="1339.5" y2="1291.3" stroke-width="7.5"/>
<line x1="1407.5" y1="1282.5" x2="1407.5" y2="1291.3" stroke-width="7.5"/>
<text x="926.5" y="749.8" font-size="33" text-anchor="end">0.15</text>
<text x="926.5" y="926.3" font-size="33" text-anchor="end">0.10</text>
<text x="926.5" y="1102.8" font-size="33" text-anchor="end">0.05</text>
<text x="926.5" y="1282.3" font-size="33" text-anchor="end">0</text>
<text x="1483" y="1281.5" font-size="33">0</text>
<text x="1483" y="1148.5" font-size="33">10</text>
<text x="1483" y="1015.5" font-size="33">20</text>
<text x="1483" y="882.5" font-size="33">30</text>
<text x="1483" y="749.5" font-size="33">40</text>
<text x="999.3" y="1327.8" font-size="33" text-anchor="middle">10</text>
<text x="1067.2" y="1327.8" font-size="33" text-anchor="middle">20</text>
<text x="1135.2" y="1327.8" font-size="33" text-anchor="middle">30</text>
<text x="1203.1" y="1327.8" font-size="33" text-anchor="middle">40</text>
<text x="1271.1" y="1327.8" font-size="33" text-anchor="middle">50</text>
<text x="1339" y="1327.8" font-size="33" text-anchor="middle">60</text>
<text x="1407" y="1327.8" font-size="33" text-anchor="middle">70</text>
<text x="1474.9" y="1327.8" font-size="33" text-anchor="middle">80</text>
<text x="857.4" y="1261" font-size="47.7" font-weight="bold" transform="rotate(-90 857.4 1261)">Absorbance at 214 nm</text>
<text x="1561.8" y="1113" font-size="47.7" font-weight="bold" transform="rotate(-90 1561.8 1113)">Acetonitrile (%)</text>
<text font-size="35" font-weight="bold" transform="translate(1559.2 1138.7) rotate(-90) scale(1.337 1)" x="-1.40" y="0">-</text>
<text font-size="35" font-weight="bold" transform="translate(1559.2 1173.1) rotate(-90) scale(1.954 1)" x="-1.40" y="0">-</text>
<text font-size="35" font-weight="bold" transform="translate(1559.2 1202) rotate(-90) scale(1.291 1)" x="-1.40" y="0">-</text>
<text x="1243.2" y="1368" font-size="46.2" text-anchor="middle" font-weight="bold">Fraction Number</text>
<text x="810.7" y="726.7" font-size="56" font-weight="bold">d</text>
</g>
</svg></body></html>
